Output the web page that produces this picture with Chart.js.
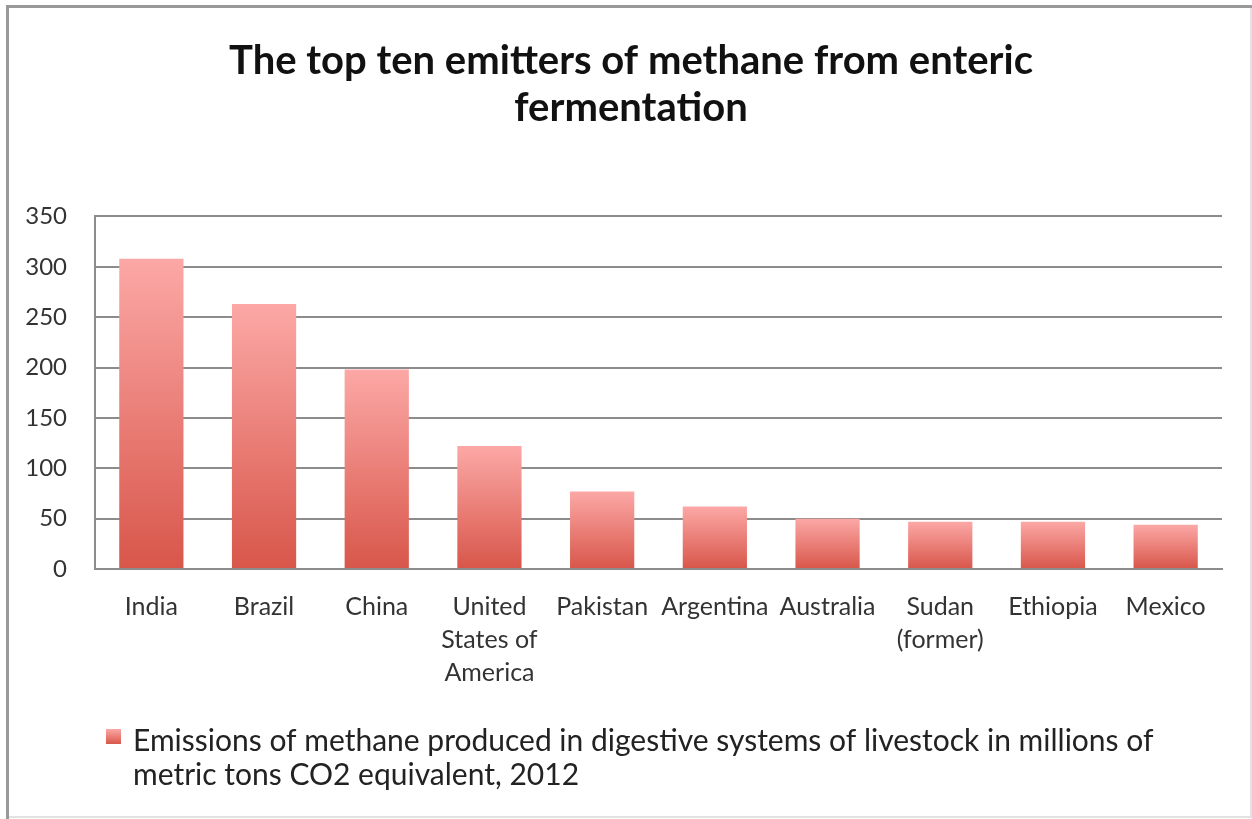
<!DOCTYPE html>
<html lang="en">
<head>
<meta charset="UTF-8">
<title>Methane from enteric fermentation</title>
<script src="https://cdn.jsdelivr.net/npm/chart.js"></script>
<style>
  html, body { margin: 0; padding: 0; background: #fff; }
  #wrap { width: 1252px; height: 819px; }
</style>
</head>
<body>
<div id="wrap"><canvas id="chart" width="1252" height="819"></canvas></div>
<script>
// top ten emitters, Mt CO2 eq (2012)
const countries = ['India', 'Brazil', 'China', ['United', 'States of', 'America'], 'Pakistan',
  'Argentina', 'Australia', ['Sudan', '(former)'], 'Ethiopia', 'Mexico'];
const emissions = [308, 263, 198, 122, 77, 62, 50, 47, 47, 44];
const yMax = 350;
const yStep = 50;
const chartTitle = ['The top ten emitters of methane from enteric', 'fermentation'];
const seriesLabel = 'Emissions of methane produced in digestive systems of livestock in millions of metric tons CO2 equivalent, 2012';

const FONT = 'Lato, "Open Sans", sans-serif';

// light pink at the top of each bar, deeper red at the base
function barGradient(ctx) {
  const chart = ctx.chart;
  const y = chart.scales && chart.scales.y;
  if (!chart.chartArea || !y || ctx.raw === undefined) return '#e9736b';
  const top = y.getPixelForValue(ctx.raw);
  const bottom = y.getPixelForValue(0);
  const g = chart.ctx.createLinearGradient(0, top, 0, bottom);
  g.addColorStop(0, '#fca8a6');
  g.addColorStop(1, '#d8564a');
  return g;
}

// frame round the whole picture
const frame = {
  id: 'frame',
  beforeDraw(chart) {
    const c = chart.ctx;
    c.save();
    c.fillStyle = '#fff';
    c.fillRect(0, 0, chart.width, chart.height);
    c.strokeStyle = '#e2e2e2';
    c.lineWidth = 2;
    c.strokeRect(8, 7, chart.width - 9, chart.height - 9);
    c.strokeStyle = '#999';
    c.lineWidth = 3;
    c.beginPath();
    c.moveTo(7.5, chart.height);
    c.lineTo(7.5, 6.5);
    c.lineTo(chart.width, 6.5);
    c.stroke();
    c.restore();
  }
};

// legend with a wrapped label under the axis
const seriesKey = {
  id: 'seriesKey',
  afterDraw(chart) {
    const c = chart.ctx;
    const area = chart.chartArea;
    const x0 = area.left + 11;
    const y0 = chart.height - 77;
    const lh = 34;
    c.save();
    const g = c.createLinearGradient(0, y0 - 13, 0, y0 + 2);
    g.addColorStop(0, '#fca8a6');
    g.addColorStop(1, '#d8564a');
    c.fillStyle = g;
    c.fillRect(x0, y0 - 13, 15, 15);
    c.font = '30px ' + FONT;
    c.fillStyle = '#222';
    c.textBaseline = 'middle';
    const tx = x0 + 27;
    const maxW = chart.width - tx - 60;
    const words = seriesLabel.split(' ');
    let line = '', ly = y0 - 1;
    for (const w of words) {
      const test = line ? line + ' ' + w : w;
      if (c.measureText(test).width > maxW && line) {
        c.fillText(line, tx, ly);
        line = w;
        ly += lh;
      } else {
        line = test;
      }
    }
    c.fillText(line, tx, ly);
    c.restore();
  }
};

new Chart(document.getElementById('chart'), {
  type: 'bar',
  data: {
    labels: countries,
    datasets: [{
      label: seriesLabel,
      data: emissions,
      backgroundColor: barGradient,
      borderWidth: 0,
      categoryPercentage: 1,
      barPercentage: 0.57
    }]
  },
  options: {
    responsive: false,
    animation: false,
    layout: { padding: { left: 10, right: 0, top: 0, bottom: 117 } },
    plugins: {
      legend: { display: false },
      tooltip: { enabled: false },
      title: {
        display: true,
        text: chartTitle,
        color: '#111',
        font: { family: FONT, size: 40, weight: 'bold', lineHeight: 1.18 },
        padding: { top: 37, bottom: 85 }
      }
    },
    scales: {
      x: {
        grid: { display: false },
        border: { display: true, color: '#8c8c8c', width: 2 },
        ticks: {
          color: '#333',
          font: { family: FONT, size: 25, lineHeight: 1.32 },
          padding: 13,
          maxRotation: 0,
          autoSkip: false
        }
      },
      y: {
        min: 0,
        max: yMax,
        grid: { color: '#8c8c8c', lineWidth: 2, drawTicks: false },
        border: { display: true, color: '#8c8c8c', width: 2 },
        ticks: {
          stepSize: yStep,
          color: '#333',
          font: { family: FONT, size: 24 },
          padding: 28
        },
        afterFit(scale) { scale.width = 85; }
      },
      // empty strip on the right so the plot stops short of the frame
      yRight: {
        type: 'linear',
        position: 'right',
        grid: { display: false },
        border: { display: false },
        ticks: { display: false },
        afterFit(scale) { scale.width = 30; }
      }
    }
  },
  plugins: [frame, seriesKey]
});
</script>
</body>
</html>
